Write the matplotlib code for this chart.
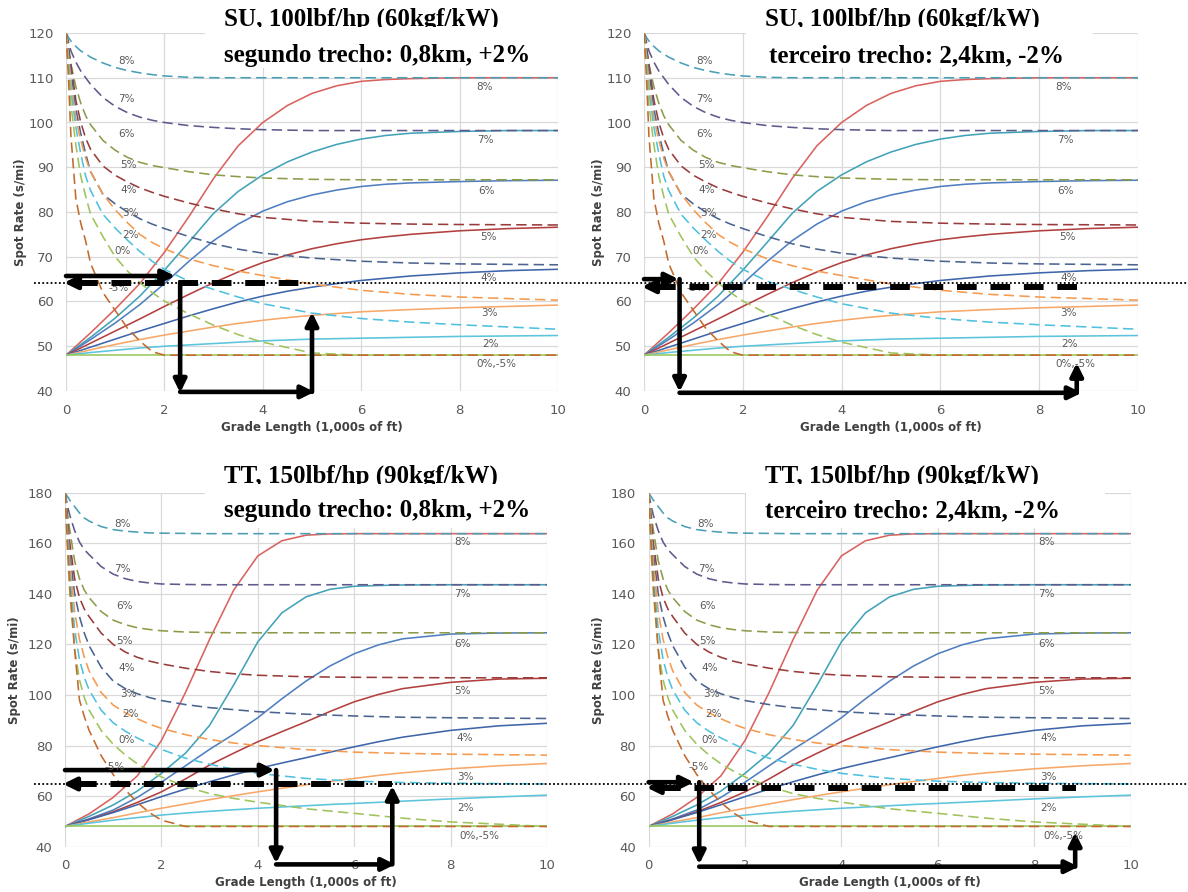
import matplotlib
matplotlib.use('Agg')
import matplotlib.pyplot as plt
from matplotlib.lines import Line2D
from matplotlib.patches import Rectangle

# ---- data ----
grades = ['8%', '7%', '6%', '5%', '4%', '3%', '2%', '0%', '-5%']

# deceleration (dashed) curves
dec_x = [0, 0.05, 0.1, 0.2, 0.3, 0.4, 0.5, 0.75, 1, 1.25, 1.5, 1.75, 2, 2.5, 3, 3.5, 4, 5, 6, 7, 8, 10]
su_dec = {
    '8%': [120, 119, 118.2, 117, 116, 115.3, 114.6, 113.3, 112.3, 111.6, 111.1, 110.7, 110.4, 110.1, 110, 110, 110, 110, 110, 110, 110, 110],
    '7%': [120, 118, 116, 113.5, 111.5, 110, 108.5, 105.6, 103.6, 102.2, 101.2, 100.5, 100, 99.3, 98.9, 98.6, 98.4, 98.2, 98.2, 98.2, 98.2, 98.2],
    '6%': [120, 116.5, 113, 108, 104.3, 101.5, 99.5, 96, 93.8, 92.2, 91.1, 90.4, 89.9, 89, 88.3, 87.9, 87.6, 87.3, 87.2, 87.2, 87.2, 87.2],
    '5%': [120, 117, 113, 105, 100, 96.5, 94, 90.3, 88.2, 86.7, 85.4, 84.4, 83.5, 82, 80.7, 79.6, 78.8, 77.9, 77.5, 77.3, 77.2, 77.1],
    '4%': [120, 116, 111.5, 103, 97.5, 93, 89, 84, 81.8, 80, 78.5, 77.3, 76.3, 74.5, 72.9, 71.7, 70.8, 69.7, 69, 68.6, 68.4, 68.2],
    '3%': [120, 115, 109, 101, 96, 92, 89, 84, 80.5, 77.6, 75, 73.2, 71.8, 69.5, 68, 66.8, 65.8, 63.9, 62.5, 61.6, 61, 60.3],
    '2%': [120, 114, 107, 99, 93, 88, 84.8, 79.5, 76.4, 73.7, 71.2, 69, 67.2, 64.5, 62.7, 61, 59.5, 57.4, 56.2, 55.4, 54.8, 53.8],
    '0%': [120, 113, 104, 95, 88, 83.5, 79.5, 74.5, 70, 66.8, 64.2, 62, 60.1, 57.2, 54.7, 52.6, 50.9, 48.5, 48, 48, 48, 48],
    '-5%': [120, 110, 97, 83, 77.5, 73.5, 68.5, 62, 58, 54, 51.2, 48.8, 48, 48, 48, 48, 48, 48, 48, 48, 48, 48],
}
tt_dec = {
    '8%': [180, 178.5, 177, 174.5, 172, 170, 168.8, 166.6, 165.4, 164.8, 164.4, 164.1, 164, 163.9, 163.8, 163.8, 163.8, 163.8, 163.8, 163.8, 163.8, 163.8],
    '7%': [180, 175, 171, 165, 160.5, 157.5, 155.5, 150.8, 147.8, 146, 144.9, 144.3, 143.9, 143.7, 143.6, 143.6, 143.6, 143.6, 143.6, 143.6, 143.6, 143.6],
    '6%': [180, 172, 165, 153, 146, 141.5, 138.5, 133, 129.6, 127.8, 126.6, 125.9, 125.4, 124.9, 124.7, 124.6, 124.6, 124.6, 124.6, 124.6, 124.6, 124.6],
    '5%': [180, 170, 160, 146, 138.5, 134, 131, 124.5, 120, 117, 114.9, 113.4, 112.3, 110.6, 109.3, 108.4, 107.8, 107.2, 107, 106.9, 106.8, 106.8],
    '4%': [180, 168, 156, 140, 131, 124.5, 119.5, 111, 105.5, 102.5, 100.5, 99, 97.8, 96.2, 95, 94.2, 93.4, 92.4, 91.7, 91.2, 91, 90.7],
    '3%': [180, 166, 152, 133, 122, 115, 109.5, 101, 96, 93, 90.6, 88.5, 86.8, 84.3, 82.4, 81, 80, 78.4, 77.4, 76.9, 76.6, 76.2],
    '2%': [180, 163, 147, 126, 114, 107, 102, 94, 89, 85.7, 83, 80.7, 78.5, 75, 72.6, 70.6, 69, 67, 65.9, 65.4, 65.1, 64.8],
    '0%': [180, 158, 140, 118, 106, 99, 94, 86, 80.5, 76.3, 72.8, 70, 67.6, 63.8, 61, 59.1, 57.6, 55, 53.2, 51.3, 49.8, 48],
    '-5%': [180, 160, 143, 118, 98, 91.5, 86, 76, 68.5, 62.5, 57.5, 53.5, 50.5, 48, 48, 48, 48, 48, 48, 48, 48, 48],
}

# acceleration (solid) curves
acc_x = [0, 0.5, 1, 1.5, 2, 2.5, 3, 3.5, 4, 4.5, 5, 5.5, 6, 6.5, 7, 8, 9, 10]
su_acc = {
    '8%': [48, 53, 58.3, 64, 71, 79, 87.5, 94.8, 100, 103.8, 106.5, 108.2, 109.2, 109.6, 109.8, 110, 110, 110],
    '7%': [48, 52, 56.3, 61.2, 67, 73.3, 79.7, 84.6, 88.3, 91.2, 93.4, 95.1, 96.3, 97.1, 97.6, 98, 98.2, 98.2],
    '6%': [48, 51.5, 55.2, 59.3, 64, 69, 73.6, 77.3, 80.2, 82.3, 83.8, 84.9, 85.7, 86.2, 86.5, 86.8, 87, 87.1],
    '5%': [48, 50.7, 53.4, 56.1, 58.9, 61.6, 64.2, 66.6, 68.7, 70.4, 71.8, 72.9, 73.8, 74.45, 75, 75.8, 76.3, 76.6],
    '4%': [48, 49.8, 51.6, 53.4, 55.1, 56.8, 58.4, 59.9, 61.2, 62.3, 63.2, 64, 64.7, 65.2, 65.7, 66.4, 66.9, 67.2],
    '3%': [48, 49.2, 50.4, 51.5, 52.5, 53.4, 54.3, 55.1, 55.8, 56.4, 56.9, 57.3, 57.7, 57.95, 58.2, 58.6, 58.9, 59.2],
    '2%': [48, 48.6, 49.1, 49.6, 50, 50.3, 50.6, 50.9, 51.2, 51.4, 51.6, 51.7, 51.8, 51.9, 52, 52.2, 52.3, 52.4],
}
tt_acc = {
    '8%': [48, 53, 59.5, 68, 82, 101, 122, 141.5, 155, 161, 163.2, 163.7, 163.8, 163.8, 163.8, 163.8, 163.8, 163.8],
    '7%': [48, 52, 56.5, 62, 69, 77, 88, 104, 121, 132.5, 138.8, 141.8, 143, 143.3, 143.5, 143.6, 143.6, 143.6],
    '6%': [48, 51, 54.5, 59.5, 65.5, 72, 78.5, 84.5, 91, 98.5, 105.5, 111.5, 116.3, 119.8, 122.2, 124.1, 124.5, 124.6],
    '5%': [48, 50.8, 53.8, 57.5, 61.7, 66.8, 72.3, 77, 81.5, 85.5, 89.4, 93.5, 97.3, 100.2, 102.5, 105, 106.3, 106.6],
    '4%': [48, 50.7, 53.5, 56.6, 59.8, 62.8, 65.7, 68.4, 70.9, 73.1, 75.2, 77.4, 79.5, 81.5, 83.3, 86, 87.8, 88.8],
    '3%': [48, 49.8, 51.5, 53.4, 55.2, 56.9, 58.6, 60.2, 61.7, 63.1, 64.5, 65.8, 67, 68.2, 69.2, 70.8, 72, 72.9],
    '2%': [48, 49.3, 50.5, 51.5, 52.5, 53.3, 54, 54.6, 55.2, 55.7, 56.2, 56.7, 57.1, 57.55, 58, 58.9, 59.7, 60.4],
}
flat_x = [0, 10]
flat_y = [48, 48]

dash_colors = {'8%': '#4a9fb5', '7%': '#5e5a8c', '6%': '#8c9b4a', '5%': '#9a3b3b', '4%': '#4b6390',
               '3%': '#f59a4e', '2%': '#4fc1de', '0%': '#9ec35a', '-5%': '#c26a2d'}
solid_colors = {'8%': '#d9625f', '7%': '#42a3b8', '6%': '#4f7fc0', '5%': '#b2403f', '4%': '#3f66ab',
                '3%': '#f7a768', '2%': '#5cc4dc'}

# curve labels (text, x, y)
su_left_lbl = [('8%', 1.23, 113.7), ('7%', 1.23, 105.2), ('6%', 1.23, 97.4), ('5%', 1.27, 90.5),
               ('4%', 1.27, 85), ('3%', 1.3, 79.7), ('2%', 1.31, 74.9), ('0%', 1.15, 71.2), ('-5%', 1.07, 63)]
su_right_lbl = [('8%', 8.5, 107.9), ('7%', 8.52, 96.1), ('6%', 8.54, 84.6), ('5%', 8.58, 74.4),
                ('4%', 8.6, 65.2), ('3%', 8.6, 57.4), ('2%', 8.62, 50.6), ('0%,-5%', 8.74, 46)]
tt_left_lbl = [('8%', 1.19, 167.8), ('7%', 1.19, 150), ('6%', 1.23, 135.1), ('5%', 1.23, 121.3),
               ('4%', 1.27, 110.7), ('3%', 1.31, 100.2), ('2%', 1.35, 92.3), ('0%', 1.27, 82.1), ('-5%', 1.03, 71.6)]
tt_right_lbl = [('8%', 8.25, 160.5), ('7%', 8.25, 139.8), ('6%', 8.25, 120.1), ('5%', 8.25, 101.5),
                ('4%', 8.3, 82.8), ('3%', 8.3, 67.7), ('2%', 8.3, 55.4), ('0%,-5%', 8.6, 44.4)]

# hand-drawn arrows (x0, y0, x1, y1) and thick dashed guide (x0, x1, y)
arrows_tl = [(0, 65.7, 2.22, 65.7), (2.32, 64.2, 2.32, 39.6), (2.32, 39.8, 5.05, 39.8), (5.0, 39.8, 5.0, 57.6)]
guide_tl = (0, 4.85, 64.2)
arrows_tr = [(0, 65.0, 0.7, 65.0), (0.72, 65.0, 0.72, 39.8), (0.72, 39.6, 8.86, 39.6), (8.76, 39.6, 8.76, 46.3)]
guide_tr = (0, 8.76, 63.3)
arrows_bl = [(0, 70.3, 4.35, 70.3), (4.38, 70.3, 4.38, 33.4), (4.38, 33.0, 6.85, 33.0), (6.79, 33.0, 6.79, 64.1)]
guide_bl = (0, 6.79, 64.8)
arrows_br = [(0, 65.5, 0.94, 65.5), (1.05, 65.5, 1.05, 33.0), (1.05, 32.1, 8.92, 32.1), (8.85, 32.1, 8.85, 45.7)]
guide_br = (0, 8.87, 63.4)

W, H = 1188, 892
fig = plt.figure(figsize=(W / 100, H / 100), dpi=100)


def draw_arrow(ax, x0, y0, x1, y1):
    ax.annotate('', xy=(x1, y1), xytext=(x0, y0), annotation_clip=False,
                arrowprops=dict(arrowstyle='-|>,head_length=0.85,head_width=0.42', lw=3.3,
                                color='k', mutation_scale=9, shrinkA=0, shrinkB=0,
                                clip_on=False, zorder=8))


def panel(rect, dec, acc, ymax, ystep, left_lbl, right_lbl, arrows, guide, ylab_x):
    ax = fig.add_axes(rect)
    for g in grades[:-2]:
        ax.plot(acc_x, acc[g], color=solid_colors[g], lw=1.15, zorder=2)
    ax.plot(flat_x, flat_y, color='#98c95a', lw=1.15, zorder=2)
    for g in grades:
        ax.plot(dec_x, dec[g], color=dash_colors[g], lw=1.15, ls=(0, (6.5, 3.3)), zorder=3)
    for t, x, y in left_lbl + right_lbl:
        ax.text(x, y, t, fontsize=7.5, color='#595959', ha='center', va='center', zorder=4)

    ax.set_xlim(0, 10)
    ax.set_ylim(40, ymax)
    ax.set_xticks(range(0, 11, 2))
    ax.set_yticks(range(40, ymax + 1, ystep))
    ax.grid(True, color='#d9d9d9', lw=0.9)
    ax.set_axisbelow(True)
    for s in ax.spines.values():
        s.set_visible(False)
    ax.tick_params(length=0, labelsize=9.5, labelcolor='#595959', pad=9)
    ax.set_ylabel('Spot Rate (s/mi)', fontsize=8.5, fontweight='bold', color='#404040')
    ax.set_xlabel('Grade Length (1,000s of ft)', fontsize=8.5, fontweight='bold', color='#404040')
    ax.yaxis.set_label_coords(ylab_x, 0.5)
    ax.xaxis.set_label_coords(0.5, -0.083)

    # annotations
    gx0, gx1, gy = guide
    ax.plot([gx0 + 0.25, gx1], [gy, gy], color='k', lw=4.3, ls=(0, (3.3, 2.3)),
            dash_capstyle='butt', clip_on=False, zorder=8)
    draw_arrow(ax, gx0 + 0.5, gy, gx0 - 0.04, gy)
    for a in arrows:
        draw_arrow(ax, *a)
    return ax


panel([66 / W, 1 - 391 / H, 492 / W, 358 / H], su_dec, su_acc, 120, 10, su_left_lbl, su_right_lbl,
      arrows_tl, guide_tl, -0.079)
panel([644 / W, 1 - 391 / H, 494 / W, 358 / H], su_dec, su_acc, 120, 10, su_left_lbl, su_right_lbl,
      arrows_tr, guide_tr, -0.079)
panel([65 / W, 1 - 846.7 / H, 482 / W, 354 / H], tt_dec, tt_acc, 180, 20, tt_left_lbl, tt_right_lbl,
      arrows_bl, guide_bl, -0.091)
panel([648.6 / W, 1 - 846.7 / H, 482 / W, 354 / H], tt_dec, tt_acc, 180, 20, tt_left_lbl, tt_right_lbl,
      arrows_br, guide_br, -0.090)

# title boxes (line 1 partly hidden under the white box of line 2)
titles = [
    ('SU, 100lbf/hp (60kgf/kW)', 'segundo trecho: 0,8km, +2%', 224, 224, 26, 62, (205, 27, 560, 68)),
    ('SU, 100lbf/hp (60kgf/kW)', 'terceiro trecho: 2,4km, -2%', 765, 769, 26, 62, (746, 27, 1093, 68)),
    ('TT, 150lbf/hp (90kgf/kW)', 'segundo trecho: 0,8km, +2%', 224, 224, 483, 517, (205, 484, 560, 528)),
    ('TT, 150lbf/hp (90kgf/kW)', 'terceiro trecho: 2,4km, -2%', 765, 765, 483, 517, (746, 484, 1105, 528)),
]
for l1, l2, x1, x2, b1, b2, box in titles:
    fig.text(x1 / W, 1 - b1 / H, l1, family='Liberation Serif', fontweight='bold', fontsize=18,
             va='baseline', ha='left', zorder=4)
    bx0, by0, bx1, by1 = box
    fig.add_artist(Rectangle((bx0 / W, 1 - by1 / H), (bx1 - bx0) / W, (by1 - by0) / H,
                             transform=fig.transFigure, facecolor='white', edgecolor='none', zorder=5))
    fig.text(x2 / W, 1 - b2 / H, l2, family='Liberation Serif', fontweight='bold', fontsize=18,
             va='baseline', ha='left', zorder=6)

# dotted reference lines across the page
for yy in (282.7, 784.3):
    fig.add_artist(Line2D([34 / W, 1], [1 - yy / H, 1 - yy / H], transform=fig.transFigure,
                          color='k', lw=1.3, ls=(0, (1, 1.3)), zorder=9))

fig.savefig('out.png', dpi=100, facecolor='white')
